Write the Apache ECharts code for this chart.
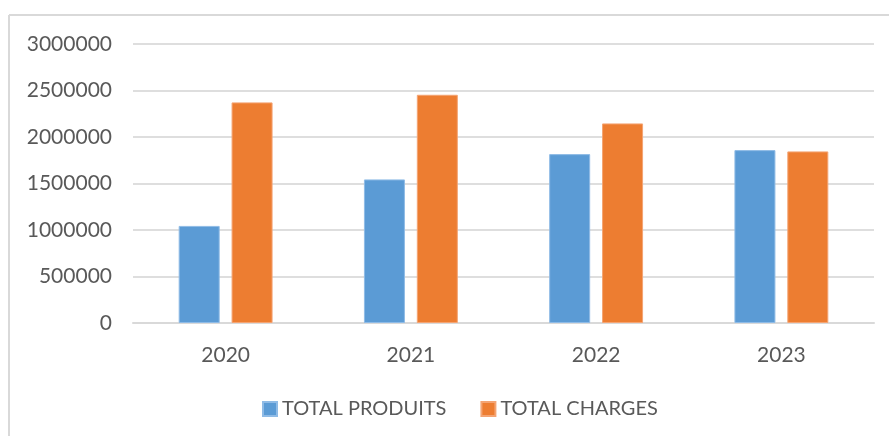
<!DOCTYPE html>
<html>
<head>
<meta charset="utf-8">
<script src="https://cdn.jsdelivr.net/npm/echarts@6/dist/echarts.min.js"></script>
<style>
html,body{margin:0;padding:0;background:#fff;}
#c{width:889px;height:436px;}
</style>
</head>
<body>
<div id="c"></div>
<script>
var categories = ['2020', '2021', '2022', '2023'];
var seriesNames = ['TOTAL PRODUITS', 'TOTAL CHARGES'];
var totalProduits = [1044000, 1544000, 1816000, 1859000];
var totalCharges = [2372000, 2454000, 2146000, 1845000];
var yTicks = [0, 500000, 1000000, 1500000, 2000000, 2500000, 3000000];

var FONT = 'Lato';
var TXT = '#595959';
var chart = echarts.init(document.getElementById('c'), null, {renderer: 'canvas'});
chart.setOption({
  animation: false,
  backgroundColor: '#fff',
  graphic: [
    {type: 'line', shape: {x1: 9, y1: 15, x2: 889, y2: 15}, style: {stroke: '#d9d9d9', lineWidth: 2}},
    {type: 'line', shape: {x1: 9, y1: 15, x2: 9, y2: 436}, style: {stroke: '#d9d9d9', lineWidth: 2}}
  ],
  grid: {left: 133, right: 15, top: 44, bottom: 113, containLabel: false},
  legend: {
    data: seriesNames,
    left: 257,
    top: 394,
    itemWidth: 14,
    itemHeight: 14,
    itemGap: 34,
    icon: 'rect',
    textStyle: {fontFamily: FONT, fontSize: 20, color: TXT}
  },
  xAxis: {
    type: 'category',
    data: categories,
    axisLine: {show: true, lineStyle: {color: '#d9d9d9', width: 2}},
    axisTick: {show: false},
    axisLabel: {fontFamily: FONT, fontSize: 21, color: TXT, margin: 22}
  },
  yAxis: {
    type: 'value',
    min: yTicks[0],
    max: yTicks[yTicks.length - 1],
    interval: yTicks[1] - yTicks[0],
    axisLine: {show: false},
    axisTick: {show: false},
    splitLine: {lineStyle: {color: '#dedede', width: 2}},
    axisLabel: {fontFamily: FONT, fontSize: 21, color: TXT, margin: 21,
      formatter: function (v) { return String(v); }}
  },
  series: [
    {
      name: seriesNames[0], type: 'bar', data: totalProduits,
      barWidth: 41, barGap: '29%',
      itemStyle: {color: '#5b9bd5', borderColor: '#8fbbe6', borderWidth: 1}
    },
    {
      name: seriesNames[1], type: 'bar', data: totalCharges,
      barWidth: 41,
      itemStyle: {color: '#ed7d31', borderColor: '#f4a473', borderWidth: 1}
    }
  ]
});
</script>
</body>
</html>
